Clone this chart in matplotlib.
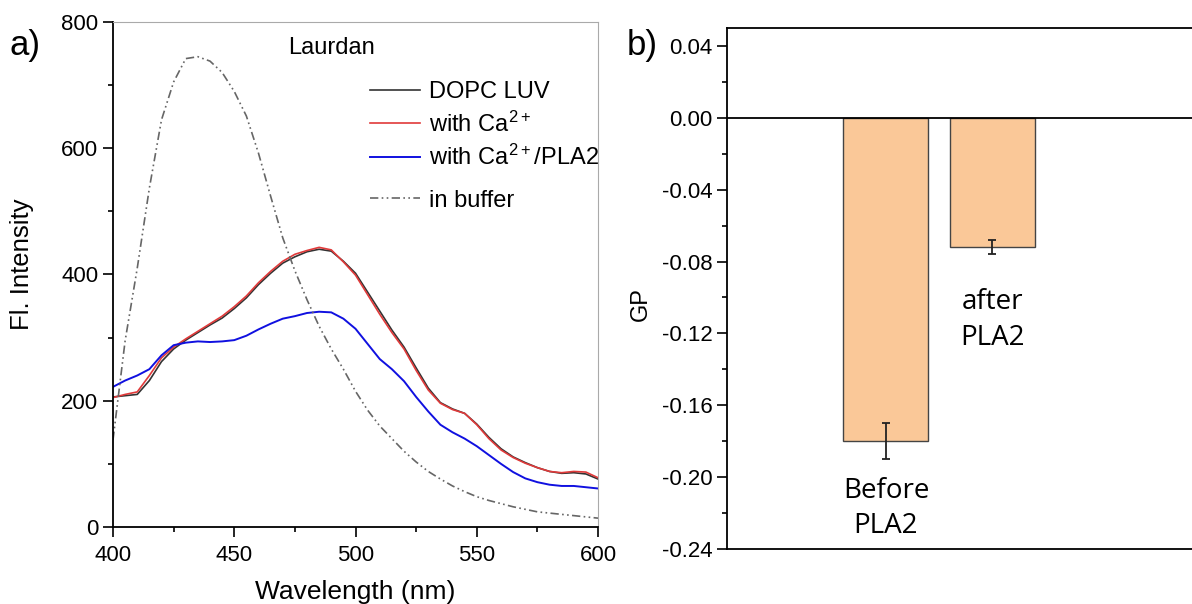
import numpy as np
import matplotlib
matplotlib.use("Agg")
import matplotlib.pyplot as plt
from matplotlib.ticker import MultipleLocator

plt.rcParams['font.family'] = ['Liberation Sans', 'DejaVu Sans']
plt.rcParams['mathtext.default'] = 'regular'

# Спектры Laurdan (каждые 5 нм)
wavelength = list(range(400, 601, 5))
dopc_luv = [206, 208, 210, 232, 262, 282, 296, 308, 320, 331,
            346, 363, 384, 402, 418, 428, 436, 440, 437, 421,
            402, 372, 342, 312, 285, 252, 220, 197, 187, 180,
            163, 142, 124, 111, 102, 94, 88, 85, 86, 84, 76]
with_ca = [205, 210, 214, 240, 268, 285, 298, 310, 322, 334,
           349, 366, 387, 405, 421, 432, 438, 443, 439, 420,
           399, 368, 337, 308, 282, 248, 217, 196, 186, 180,
           162, 140, 122, 110, 101, 94, 88, 86, 88, 87, 78]
with_ca_pla2 = [222, 232, 240, 250, 272, 288, 292, 294, 293, 294,
                296, 303, 313, 322, 330, 334, 339, 341, 340, 330,
                314, 290, 266, 250, 231, 206, 183, 162, 150, 140,
                128, 114, 100, 87, 77, 71, 67, 65, 65, 63, 61]
in_buffer = [138, 295, 410, 537, 645, 705, 742, 745, 738, 720,
             690, 651, 592, 524, 458, 406, 360, 318, 282, 250,
             215, 185, 160, 140, 120, 103, 88, 76, 65, 56,
             48, 42, 37, 32, 28, 24, 22, 20, 18, 16, 14]

# Значения GP
gp_labels = ["Before\nPLA2", "after\nPLA2"]
gp_values = [-0.180, -0.072]
gp_errors = [0.010, 0.004]

fig = plt.figure(figsize=(11.92, 6.04), dpi=100)

# ---- панель a) ----
ax1 = fig.add_axes([0.0948, 0.1275, 0.4069, 0.8361])
ax1.plot(wavelength, dopc_luv, color="#333333", lw=1.2, label="DOPC LUV")
ax1.plot(wavelength, with_ca, color="#e03a3a", lw=1.2, label="with Ca$^{2+}$")
ax1.plot(wavelength, with_ca_pla2, color="#1010e0", lw=1.4, label="with Ca$^{2+}$/PLA2")
buf_line, = ax1.plot(wavelength, in_buffer, color="#666666", lw=1.2,
                     dashes=(5, 2, 1, 2, 1, 2), label="in buffer")

ax1.set_xlim(400, 600)
ax1.set_ylim(0, 800)
ax1.xaxis.set_major_locator(MultipleLocator(50))
ax1.xaxis.set_minor_locator(MultipleLocator(25))
ax1.yaxis.set_major_locator(MultipleLocator(200))
ax1.yaxis.set_minor_locator(MultipleLocator(100))
ax1.tick_params(which="both", direction="out", labelsize=16, width=1.2)
ax1.tick_params(which="major", length=7)
ax1.tick_params(which="minor", length=3.5)
ax1.tick_params(axis="x", pad=6)
for s in ["top", "right"]:
    ax1.spines[s].set_color("#aaaaaa")
    ax1.spines[s].set_linewidth(0.8)
for s in ["left", "bottom"]:
    ax1.spines[s].set_linewidth(1.3)
ax1.set_xlabel("Wavelength (nm)", fontsize=19, labelpad=10)
ax1.set_ylabel("Fl. Intensity", fontsize=18.5)
ax1.yaxis.set_label_coords(-0.163, 0.52)

ax1.text(0.45, 0.949, "Laurdan", transform=ax1.transAxes, fontsize=17,
         ha="center", va="center")

h, l = ax1.get_legend_handles_labels()
leg1 = ax1.legend(h[:3], l[:3], loc="upper left", bbox_to_anchor=(0.53, 0.883),
                  frameon=False, fontsize=17, handlelength=2.1, handletextpad=0.4,
                  labelspacing=0.35, borderpad=0, borderaxespad=0)
ax1.add_artist(leg1)
ax1.legend([buf_line], ["in buffer"], loc="upper left", bbox_to_anchor=(0.53, 0.668),
           frameon=False, fontsize=17, handlelength=2.1, handletextpad=0.4,
           borderpad=0, borderaxespad=0)

# ---- панель b) ----
ax2 = fig.add_axes([0.6099, 0.0911, 0.3911, 0.8625])
x = np.arange(1, len(gp_values) + 1)
ax2.bar(x, gp_values, width=0.8, color="#fac898", edgecolor="#444444", linewidth=1.0,
        yerr=gp_errors, capsize=3, error_kw=dict(elinewidth=1.3, capthick=1.3, ecolor="#222222"))
ax2.axhline(0, color="black", lw=1.3)
ax2.set_xlim(-0.495, 3.89)
ax2.set_ylim(-0.24, 0.05)
ax2.yaxis.set_major_locator(MultipleLocator(0.04))
ax2.yaxis.set_minor_locator(MultipleLocator(0.02))
ax2.yaxis.set_major_formatter(plt.FuncFormatter(lambda v, p: f"{v:.2f}"))
ax2.set_xticks([])
ax2.tick_params(which="both", direction="out", labelsize=16, width=1.2)
ax2.tick_params(which="major", length=7)
ax2.tick_params(which="minor", length=3.5)
ax2.spines["right"].set_visible(False)
for s in ["left", "bottom", "top"]:
    ax2.spines[s].set_linewidth(1.3)
ax2.set_ylabel("GP", fontsize=17)
ax2.yaxis.set_label_coords(-0.161, 0.47)

label_y = [-0.2175, -0.1125]
for xi, lab, ly in zip(x, gp_labels, label_y):
    ax2.text(xi, ly, lab, ha="center", va="center", fontsize=20,
             family=["Open Sans", "DejaVu Sans"], linespacing=1.35)

fig.text(0.008, 0.924, "a)", fontsize=25, ha="left", va="center")
fig.text(0.526, 0.924, "b)", fontsize=25, ha="left", va="center")

fig.savefig("out.png", dpi=100)
